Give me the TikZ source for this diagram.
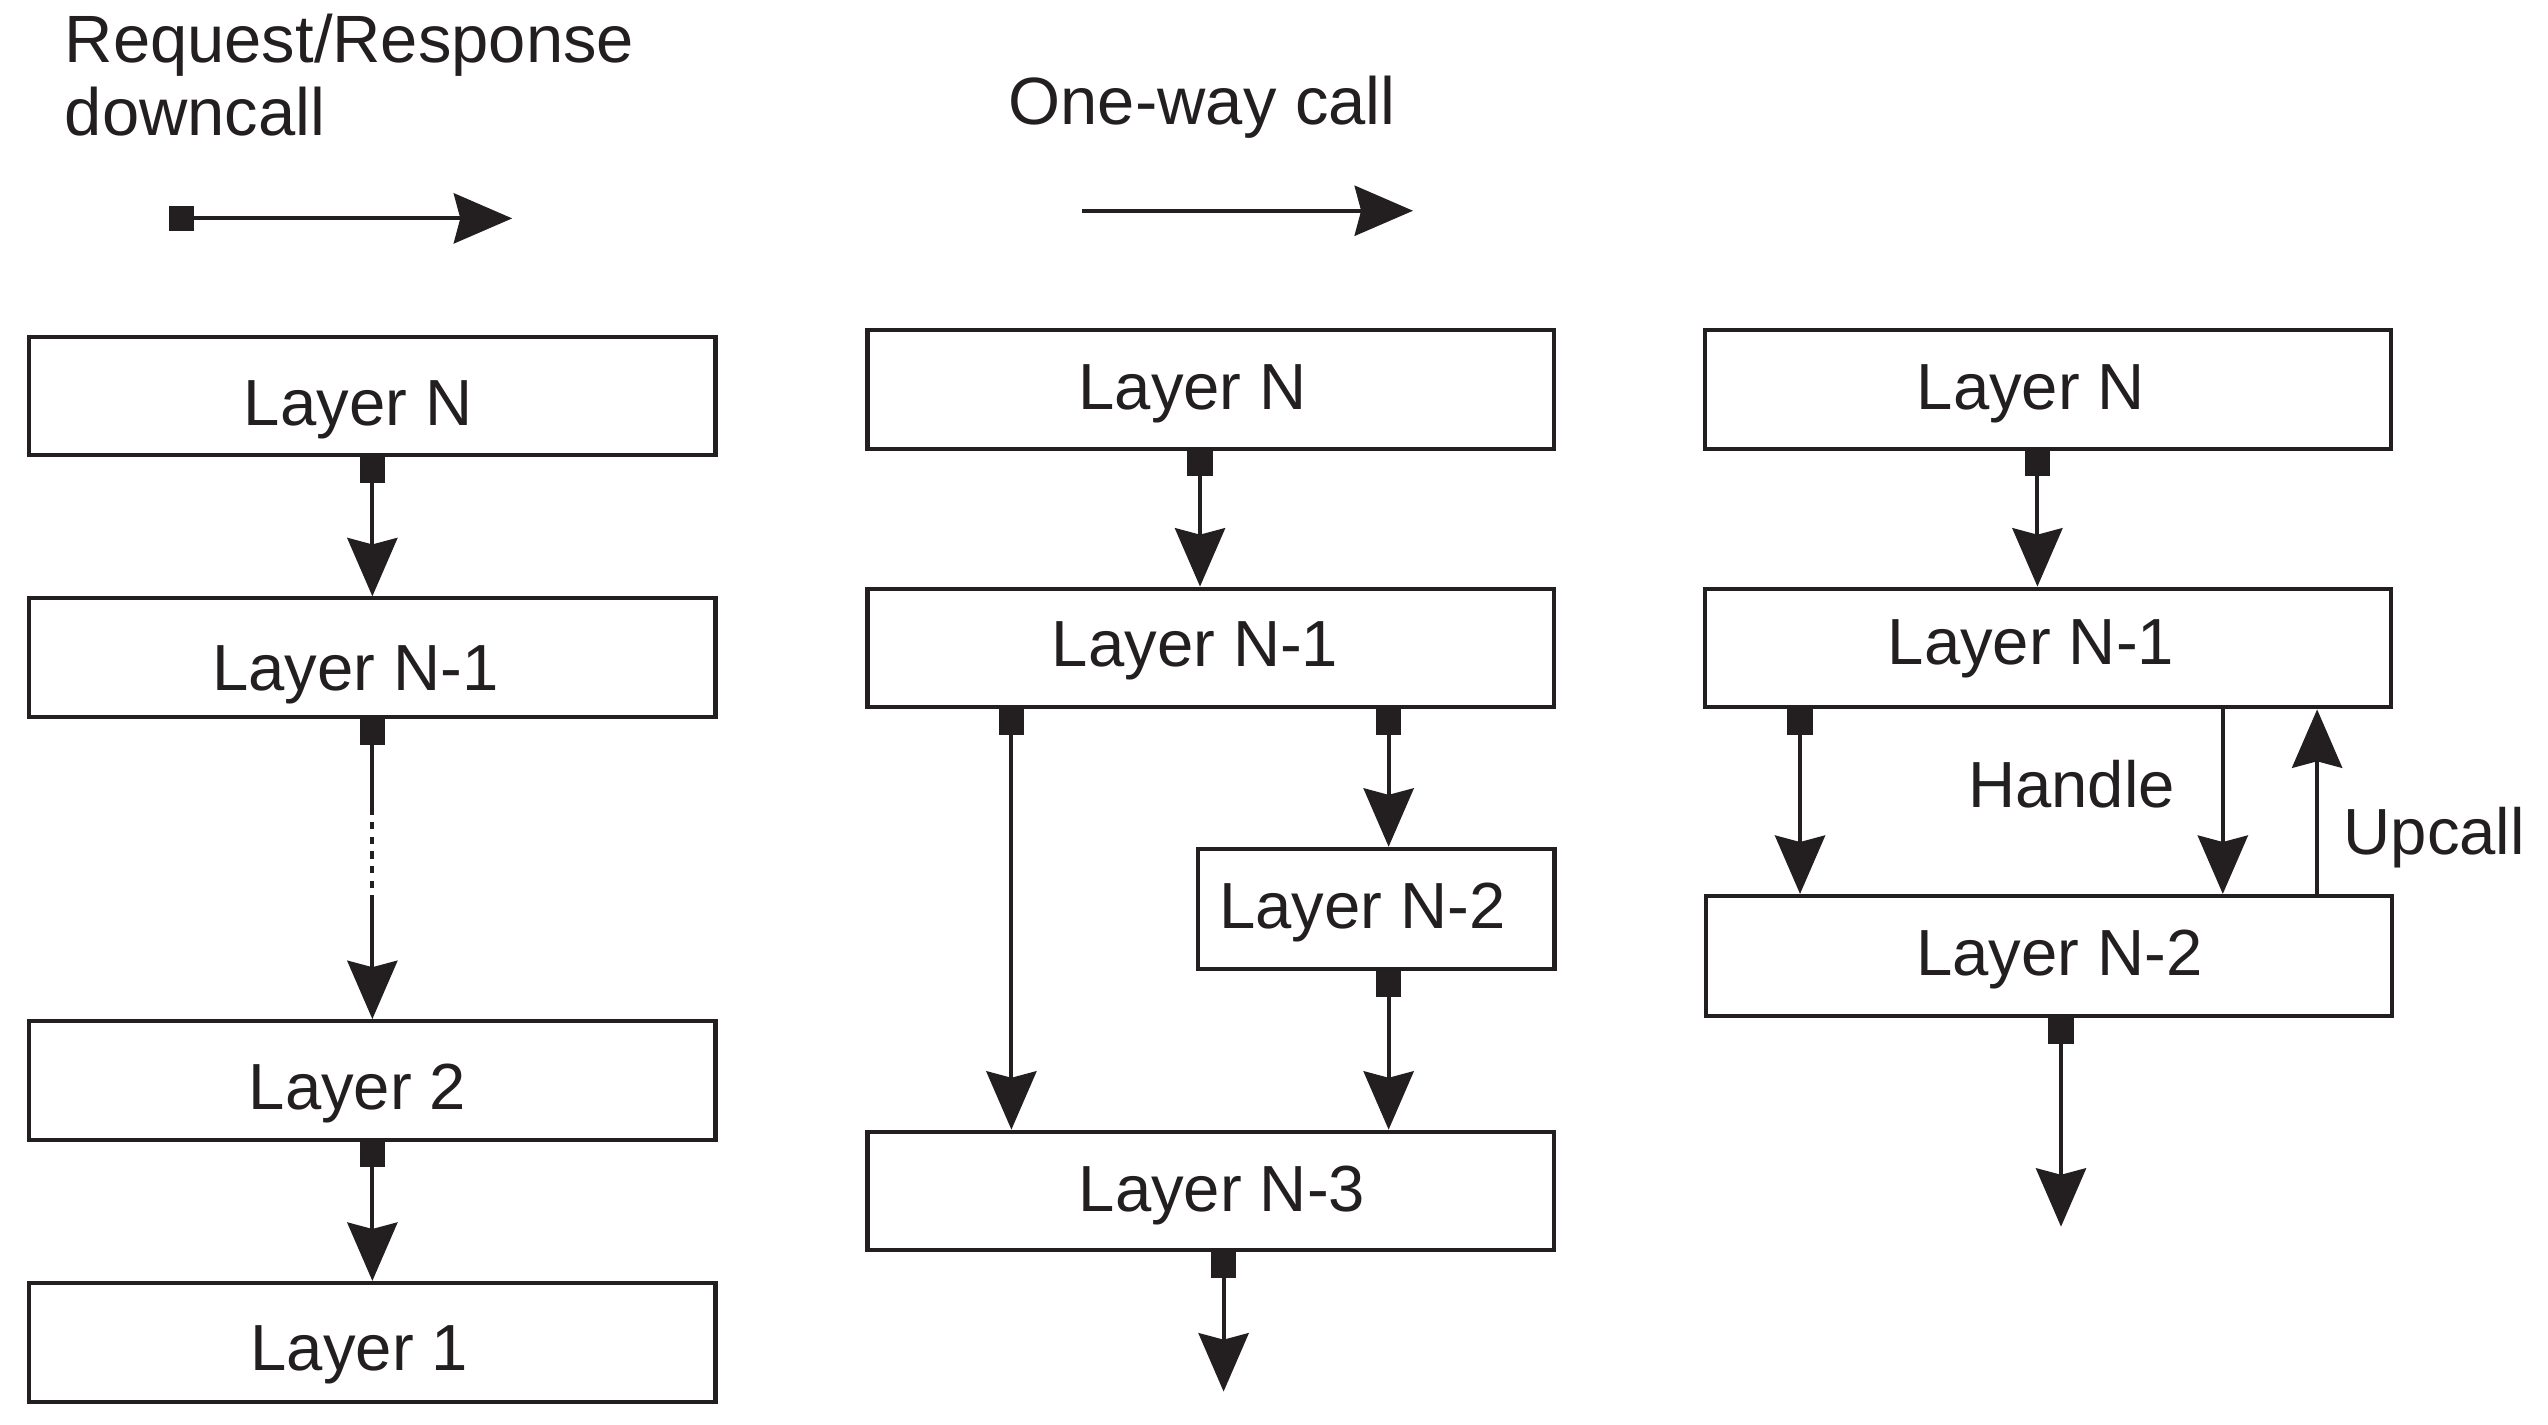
\documentclass[tikz,border=0pt]{standalone}
\usepackage{fontspec}
\setmainfont{Liberation Sans}
\usetikzlibrary{arrows.meta}
\definecolor{ink}{HTML}{231F20}
\def\pu{0.020326cm}
\begin{document}
\begin{tikzpicture}[x=0.020326cm, y=-0.020326cm,
  layer/.style={draw=ink, line width=1.45pt, minimum width=8.578cm, minimum height=1.484cm, inner sep=0pt},
  boxtext/.style={font=\fontsize{23.2pt}{26pt}\selectfont, text=ink, inner sep=0pt, text height=16.6pt, text depth=0pt},
  legtext/.style={font=\fontsize{23.8pt}{26.1pt}\selectfont, text=ink, inner sep=0pt},
  wire/.style={draw=ink, line width=1.45pt},
  call/.style={wire, {Square[length=0.317cm, width=0.317cm]}-{Stealth[length=0.730cm, width=0.626cm, inset=0.081cm]}},
  oneway/.style={wire, -{Stealth[length=0.730cm, width=0.626cm, inset=0.081cm]}},
  sqstart/.style={wire, {Square[length=0.317cm, width=0.317cm]}-},
  dotted part/.style={wire, dash pattern=on 0.0915cm off 0.0915cm, dash phase=0.0915cm}
]
\useasboundingbox (0,0) rectangle (1567,875.8);

% ---------- legend ----------
\node[legtext, anchor=north west, align=left] (legrr) at (39.5,8) {Request/Response\\downcall};
\coordinate (rrs) at (104,134.3);
\coordinate (rre) at (315,134.3);
\draw[call] (rrs) -- (rre);

\node[legtext, anchor=west, text height=17pt, text depth=0pt] (legow) at (620,61.6) {One-way call};
\coordinate (ows) at (665.4,129.6);
\coordinate (owe) at (869,129.6);
\draw[oneway] (ows) -- (owe);

% ---------- column 1 ----------
\node[layer] (c1n)  at (229,243.5) {};
\node[layer] (c1n1) at (229,404.5) {};
\node[layer] (c1l2) at (229,664.5) {};
\node[layer] (c1l1) at (229,825.5) {};
\node[boxtext, xshift=-8.8*\pu,  yshift=-4*\pu]   (t1n)  at (c1n)  {Layer N};
\node[boxtext, xshift=-10.3*\pu, yshift=-5.5*\pu] (t1n1) at (c1n1) {Layer N-1};
\node[boxtext, xshift=-9.1*\pu,  yshift=-3.3*\pu] (t1l2) at (c1l2) {Layer 2};
\node[boxtext, xshift=-7.9*\pu,  yshift=-2.7*\pu] (t1l1) at (c1l1) {Layer 1};

\draw[call] (c1n.south) -- (c1n1.north);
\coordinate (d1) at (229,501);
\coordinate (d2) at (229,554.5);
\draw[sqstart] (c1n1.south) -- (d1);
\draw[dotted part] (d1) -- (d2);
\draw[oneway] (d2) -- (c1l2.north);
\draw[call] (c1l2.south) -- (c1l1.north);

% ---------- column 2 ----------
\node[layer] (c2n)  at (744.5,239.5) {};
\node[layer] (c2n1) at (744.5,398.5) {};
\node[layer, minimum width=4.451cm, minimum height=1.504cm] (c2n2) at (846.5,559) {};
\node[layer] (c2n3) at (744.5,732.5) {};
\node[boxtext, xshift=-11*\pu,  yshift=1.8*\pu] (t2n)  at (c2n)  {Layer N};
\node[boxtext, xshift=-9.5*\pu, yshift=3*\pu]   (t2n1) at (c2n1) {Layer N-1};
\node[boxtext, xshift=-8.6*\pu, yshift=2.4*\pu] (t2n2) at (c2n2) {Layer N-2};
\node[boxtext, xshift=7*\pu,    yshift=1.8*\pu] (t2n3) at (c2n3) {Layer N-3};

\coordinate (c2xa) at (738,0);
\coordinate (c2xb) at (622,0);
\coordinate (c2xc) at (854,0);
\coordinate (c2xd) at (752.5,0);
\coordinate (c2out) at (752.5,855.8);
\draw[call] (c2n.south -| c2xa) -- (c2n1.north -| c2xa);
\draw[call] (c2n1.south -| c2xb) -- (c2n3.north -| c2xb);
\draw[call] (c2n1.south -| c2xc) -- (c2n2.north -| c2xc);
\draw[call] (c2n2.south -| c2xc) -- (c2n3.north -| c2xc);
\draw[call] (c2n3.south -| c2xd) -- (c2out);

% ---------- column 3 ----------
\node[layer] (c3n)  at (1259.5,239.5) {};
\node[layer] (c3n1) at (1259.5,398.5) {};
\node[layer, minimum height=1.504cm] (c3n2) at (1260,588) {};
\node[boxtext, xshift=-10.5*\pu, yshift=2*\pu]   (t3n)  at (c3n)  {Layer N};
\node[boxtext, xshift=-10.5*\pu, yshift=4*\pu]   (t3n1) at (c3n1) {Layer N-1};
\node[boxtext, xshift=6.6*\pu,   yshift=2.5*\pu] (t3n2) at (c3n2) {Layer N-2};
\node[boxtext] (handle) at (1274,482) {Handle};
\node[boxtext, anchor=west] (upcall) at (1441,511) {Upcall};

\coordinate (c3xa) at (1253,0);
\coordinate (c3xb) at (1107,0);
\coordinate (c3xc) at (1367,0);
\coordinate (c3xd) at (1425,0);
\coordinate (c3xe) at (1267.5,0);
\coordinate (c3out) at (1267.5,754.4);
\draw[call] (c3n.south -| c3xa) -- (c3n1.north -| c3xa);
\draw[call] (c3n1.south -| c3xb) -- (c3n2.north -| c3xb);
\draw[oneway] (c3n1.south -| c3xc) -- (c3n2.north -| c3xc);
\draw[oneway] (c3n2.north -| c3xd) -- (c3n1.south -| c3xd);
\draw[call] (c3n2.south -| c3xe) -- (c3out);
\end{tikzpicture}
\end{document}
